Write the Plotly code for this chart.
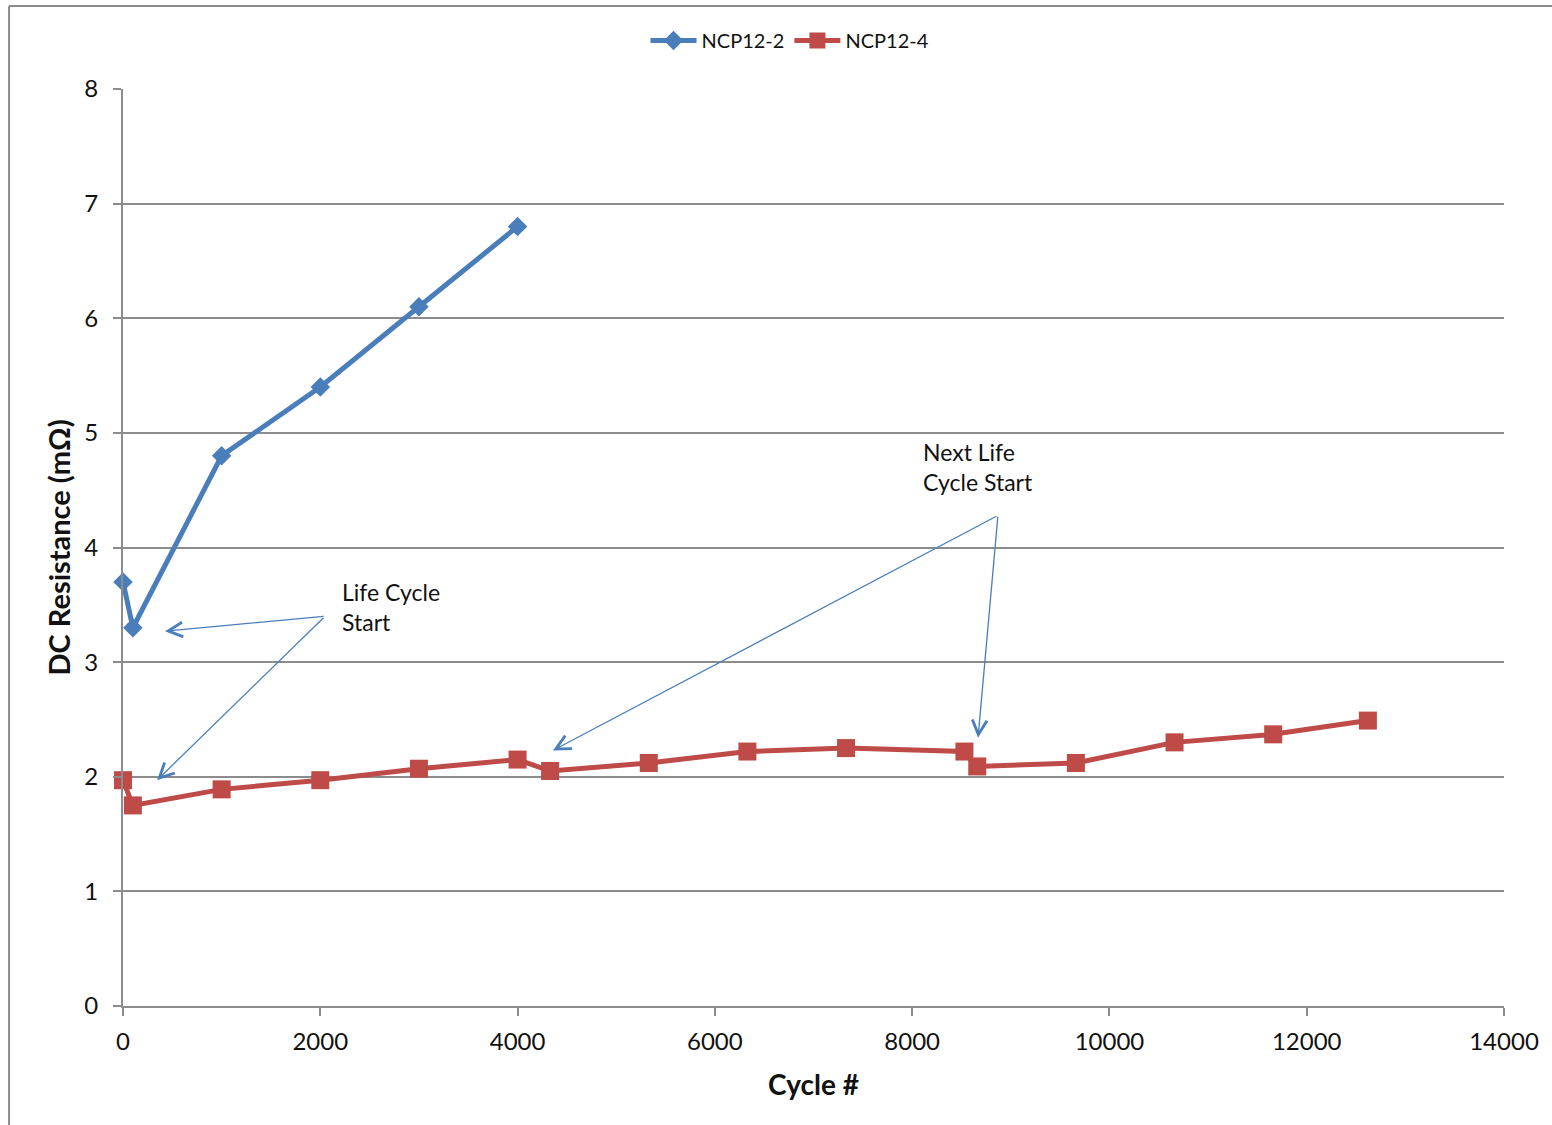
import plotly.graph_objects as go

# Cycle counts and measured DC resistance (mΩ) for each sample
ncp12_2_cycles = [0, 100, 1000, 2000, 3000, 4000]
ncp12_2_res = [3.70, 3.30, 4.80, 5.40, 6.10, 6.80]

ncp12_4_cycles = [0, 100, 1000, 2000, 3000, 4000, 4330, 5330, 6330, 7330,
                  8530, 8660, 9660, 10660, 11660, 12620]
ncp12_4_res = [1.97, 1.75, 1.89, 1.97, 2.07, 2.15, 2.05, 2.12, 2.22, 2.25,
               2.22, 2.09, 2.12, 2.30, 2.37, 2.49]

x_ticks = [0, 2000, 4000, 6000, 8000, 10000, 12000, 14000]
y_ticks = [0, 1, 2, 3, 4, 5, 6, 7, 8]

BLUE = "#4A7EBB"
RED = "#BE4B48"
GRID = "#8C8C8C"
TEXT = "#111111"
FONT = "Lato"

fig = go.Figure()
fig.add_trace(go.Scatter(
    x=ncp12_2_cycles, y=ncp12_2_res, name="NCP12-2", mode="lines+markers",
    line=dict(color=BLUE, width=5),
    marker=dict(symbol="diamond", size=15, color=BLUE),
    cliponaxis=False,
))
fig.add_trace(go.Scatter(
    x=ncp12_4_cycles, y=ncp12_4_res, name="NCP12-4", mode="lines+markers",
    line=dict(color=RED, width=5),
    marker=dict(symbol="square", size=18, color=RED),
    cliponaxis=False,
))

# Callout arrows pointing at the start of each life cycle
arrow_style = dict(
    showarrow=True, arrowhead=5, arrowsize=2.2, arrowwidth=1.3,
    arrowcolor=BLUE, text="", xref="x", yref="y", axref="x", ayref="y",
    standoff=0,
)
callouts = [
    ((2048, 3.40), (426, 3.27)),
    ((2048, 3.40), (345, 1.97)),
    ((8870, 4.28), (4359, 2.23)),
    ((8870, 4.28), (8668, 2.34)),
]
annotations = []
for (tx, ty), (hx, hy) in callouts:
    annotations.append(dict(x=hx, y=hy, ax=tx, ay=ty, **arrow_style))

label_font = dict(family=FONT, size=23, color=TEXT)
annotations.append(dict(
    x=2200, y=3.48, xref="x", yref="y", text="Life Cycle<br>Start",
    showarrow=False, xanchor="left", yanchor="middle", align="left",
    font=label_font,
))
annotations.append(dict(
    x=8090, y=4.70, xref="x", yref="y", text="Next Life<br>Cycle Start",
    showarrow=False, xanchor="left", yanchor="middle", align="left",
    font=label_font,
))

fig.update_layout(
    width=1552, height=1125,
    margin=dict(l=123, r=48, t=89, b=119),
    paper_bgcolor="white", plot_bgcolor="white",
    font=dict(family=FONT, size=24, color=TEXT),
    showlegend=True,
    legend=dict(
        orientation="h", x=0.483, y=1.053, xanchor="center", yanchor="middle",
        font=dict(family=FONT, size=20, color=TEXT),
        itemwidth=46, bgcolor="rgba(0,0,0,0)",
    ),
    annotations=annotations,
    shapes=[
        dict(type="line", xref="paper", yref="paper",
             x0=-0.0825, y0=1.0905, x1=1.05, y1=1.0905,
             line=dict(color=GRID, width=2)),
        dict(type="line", xref="paper", yref="paper",
             x0=-0.0825, y0=1.0905, x1=-0.0825, y1=-0.15,
             line=dict(color=GRID, width=2)),
    ],
)

fig.update_xaxes(
    range=[0, 14000], tickvals=x_ticks, ticktext=[str(v) for v in x_ticks],
    showgrid=False, zeroline=False,
    showline=True, linecolor=GRID, linewidth=2,
    ticks="outside", ticklen=8, tickwidth=2, tickcolor=GRID,
    ticklabelstandoff=5,
    tickfont=dict(family=FONT, size=24),
    title=dict(text="<b>Cycle #</b>", font=dict(family=FONT, size=28), standoff=22),
)
fig.update_yaxes(
    range=[0, 8], tickvals=y_ticks, ticktext=[str(v) for v in y_ticks],
    showgrid=True, gridcolor=GRID, gridwidth=2, zeroline=False,
    showline=True, linecolor=GRID, linewidth=2,
    ticks="outside", ticklen=8, tickwidth=2, tickcolor=GRID,
    ticklabelstandoff=10,
    tickfont=dict(family=FONT, size=24),
    title=dict(text="<b>DC Resistance (mΩ)</b>", font=dict(family=FONT, size=29), standoff=5),
)

fig.write_html("out.html")
